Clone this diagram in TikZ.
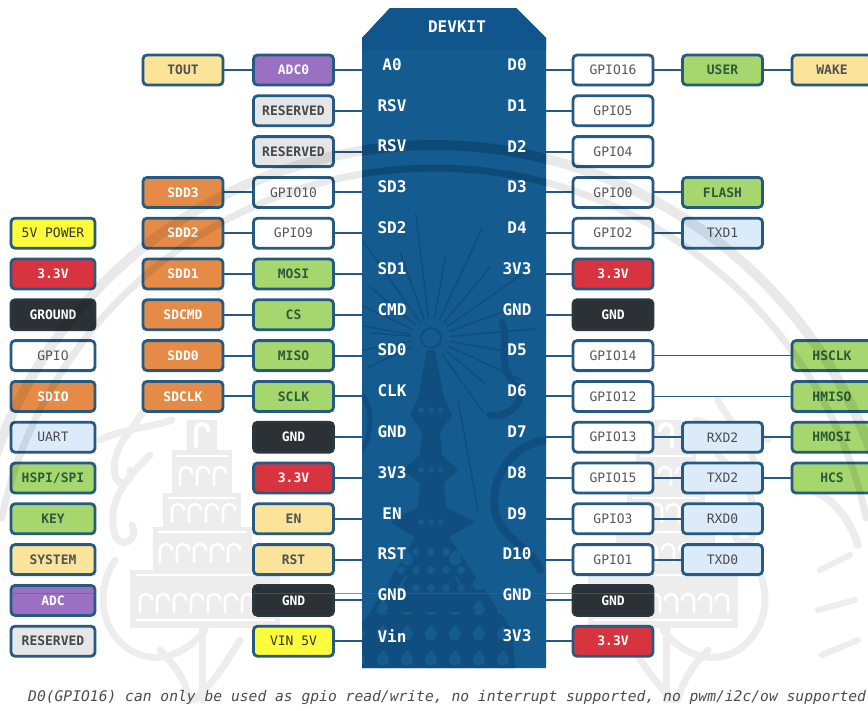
\documentclass[tikz,border=0pt]{standalone}
\usepackage{fontspec}
\setmonofont{DejaVu Sans Mono}
\definecolor{edgeblue}{HTML}{265A80}
\definecolor{chipblue}{HTML}{145C90}
\definecolor{chiptop}{HTML}{10568C}
\definecolor{chipdark}{HTML}{0F4E7E}
\definecolor{wm}{HTML}{EDEDED}
\definecolor{scanline}{HTML}{8A3F6F}
\tikzset{
  box/.style={draw=edgeblue,line width=2.8pt,rounded corners=4pt,minimum width=80pt,minimum height=30pt,inner sep=0pt,
    font=\fontsize{13}{13}\selectfont\ttfamily},
  boldlabel/.style={font=\fontsize{13}{13}\selectfont\ttfamily\bfseries},
  lightlabel/.style={boldlabel,text=white},
  gpiobox/.style={box,fill=white,text=black!65},
  sysbox/.style={box,boldlabel,fill=sysfill,text=black!68},
  resbox/.style={box,boldlabel,fill=resfill,text=black!72},
  adcbox/.style={box,lightlabel,fill=adcfill},
  sdiobox/.style={box,lightlabel,fill=sdiofill},
  spibox/.style={box,boldlabel,fill=spifill,text=spitext},
  redbox/.style={box,lightlabel,fill=redfill},
  gndbox/.style={box,lightlabel,fill=gndfill,draw=gndfill!85!edgeblue},
  pwrbox/.style={box,fill=pwrfill,text=black!80},
  uartbox/.style={box,fill=uartfill,text=black!70},
  pinlabel/.style={font=\fontsize{16}{16}\selectfont\ttfamily\bfseries,text=white,inner sep=0pt},
  wire/.style={draw=edgeblue,line width=1.9pt},
  band/.style={draw=black,opacity=.085,line cap=round},
  swirlstroke/.style={draw=wm,line width=7pt,line cap=round},
  chipstroke/.style={draw=chipdark,line cap=round},
}
\definecolor{sysfill}{HTML}{FBE39A}
\definecolor{resfill}{HTML}{E5E6E8}
\definecolor{adcfill}{HTML}{9A70C2}
\definecolor{sdiofill}{HTML}{E58B47}
\definecolor{spifill}{HTML}{A5D76E}
\definecolor{spitext}{HTML}{2F5A3A}
\definecolor{redfill}{HTML}{D8343F}
\definecolor{gndfill}{HTML}{2B3134}
\definecolor{pwrfill}{HTML}{FCFC3C}
\definecolor{uartfill}{HTML}{DCEBFA}
\newcommand{\scallops}[3]{% x start, count, y base
  \foreach \k in {1,...,#2}
    \draw[white,line width=2.6pt,line cap=round] ({#1+(\k-1)*17},#3) -- ({#1+(\k-1)*17},{#3-12}) .. controls ({#1+(\k-1)*17},{#3-20}) and ({#1+(\k-1)*17+12},{#3-20}) .. ({#1+(\k-1)*17+12},{#3-12});
}
\newcommand{\sidetower}{%
  \fill[wm] (187,420) rectangle (217,450);
  \fill[wm] (172,450) rectangle (232,493);
  \fill[wm] (163,493) rectangle (241,527);
  \fill[wm] (153,527) rectangle (252,570);
  \fill[wm] (130,570) rectangle (280,628);
  \draw[white,line width=2.4pt] (176,456) -- (228,456) (168,498) -- (236,498) (158,532) -- (247,532) (136,575) -- (275,575) (136,620) -- (275,620);
  \draw[white,line width=4pt,line cap=round] (196,446) -- (196,430) .. controls (196,422) and (208,422) .. (208,430);
  \scallops{180}{3}{485}
  \scallops{172}{4}{522}
  \scallops{160}{5}{562}
  \scallops{140}{7}{612}
  \draw[swirlstroke] (100,440) .. controls (125,428) and (150,428) .. (172,420);
  \draw[swirlstroke] (150,400) .. controls (135,430) and (110,445) .. (115,475) .. controls (118,490) and (135,480) .. (130,470);
  \draw[swirlstroke] (150,455) .. controls (130,475) and (105,500) .. (115,535) .. controls (120,550) and (140,540) .. (132,525);
  \draw[swirlstroke] (115,560) .. controls (95,590) and (100,630) .. (130,650) .. controls (160,668) and (190,650) .. (205,630);
  \draw[swirlstroke] (202,628) -- (202,700);
  \draw[swirlstroke] (240,640) .. controls (225,665) and (215,680) .. (195,700);
  \draw[swirlstroke] (160,650) .. controls (175,665) and (185,680) .. (190,700);
}
\begin{document}
\begin{tikzpicture}[x=1pt,y=-1pt]
\useasboundingbox (0,0) rectangle (868,710);
\begin{scope}
\clip (0,0) rectangle (868,710);
% --- watermark parts on the white ground
\sidetower
\begin{scope}[xshift=868pt,xscale=-1]
  \sidetower
\end{scope}
\draw[swirlstroke,line width=8pt] (812,490) .. controls (835,500) and (850,520) .. (858,545);
\draw[swirlstroke,line width=6pt] (820,570) -- (850,555) (818,610) -- (855,600) (822,655) -- (858,640);
% --- chip
\path[fill=chipblue] (362,38) -- (390,8) -- (516,8) -- (546,38) -- (546,668) -- (362,668) -- cycle;
\path[fill=chiptop] (362,38) -- (390,8) -- (516,8) -- (546,38) -- (546,50) -- (362,50) -- cycle;
\begin{scope}
\clip (362,8) rectangle (546,668);
\foreach \a/\r in {-170/70,-155/100,-140/80,-125/118,-110/90,-97/125,-80/85,-65/122,-50/92,-35/115,-20/80,-5/105,10/80,25/100,40/70,55/92,155/70,170/85,185/60}
  \draw[chipstroke,line width=1.5pt] ({431+20*cos(\a)},{338+20*sin(\a)}) -- ({431+\r*cos(\a)},{338+\r*sin(\a)});
\draw[chipstroke,line width=1.5pt] (458,400) -- (478,510);
\draw[chipstroke,line width=2pt] (431,338) circle (10);
\fill[chipdark] (427,350) -- (435,350) -- (444,398) -- (452,415) -- (440,432) -- (442,455) -- (458,470) -- (444,483) -- (446,507) -- (475,522) -- (449,537) -- (500,613) -- (512,630) -- (515,668) -- (350,668) -- (356,630) -- (370,613) -- (415,537) -- (390,522) -- (418,507) -- (420,483) -- (403,470) -- (420,455) -- (422,432) -- (410,415) -- (418,398) -- cycle;
\foreach \yy in {550,575,600,625,650}
  \foreach \xx in {-72,-48,-24,0,24,48,72}
    \fill[chipblue] ({431+\xx},\yy) .. controls ({431+\xx-9},{\yy+8}) and ({431+\xx-7},{\yy+15}) .. ({431+\xx},{\yy+15}) .. controls ({431+\xx+7},{\yy+15}) and ({431+\xx+9},{\yy+8}) .. ({431+\xx},\yy);
\fill[chipdark] (431,538) -- (476,612) -- (386,612) -- cycle;
\foreach \yy in {552,570,588}
  \foreach \xx in {-30,-15,0,15,30}
    \fill[chipblue] ({431+\xx},\yy) circle (4);
\foreach \yy in {410,470,522}
  \foreach \xx in {-10,0,10}
    \fill[chipblue] ({431+\xx},\yy) circle (3);
\draw[chipstroke,line width=7pt] (502,322) .. controls (510,345) and (495,360) .. (515,385) .. controls (530,395) and (510,420) .. (490,415);
\draw[chipstroke,line width=8pt] (546,440) .. controls (510,445) and (490,480) .. (495,510) .. controls (500,540) and (530,545) .. (540,570);
\draw[chipstroke,line width=5pt] (362,395) .. controls (375,410) and (370,440) .. (362,450);
\foreach \r/\w in {465/10,442/7}
  \draw[chipstroke,line width=\w pt,opacity=.75,line cap=butt] plot[domain=112:68,samples=24] ({434+\r*cos(\x)},{610-\r*sin(\x)});
\end{scope}
% --- named ends on the chip edge
\foreach \r in {1,...,15}{
  \pgfmathsetmacro{\yy}{70+(\r-1)*40.8}
  \coordinate (CL\r) at (362,\yy);
  \coordinate (CR\r) at (546,\yy);
}
% --- left column next to the chip
\foreach \r/\s/\t in {1/adcbox/ADC0,2/resbox/RESERVED,3/resbox/RESERVED,4/gpiobox/GPIO10,5/gpiobox/GPIO9,6/spibox/MOSI,7/spibox/CS,8/spibox/MISO,9/spibox/SCLK,10/gndbox/GND,11/redbox/3.3V,12/sysbox/EN,13/sysbox/RST,14/gndbox/GND,15/pwrbox/VIN 5V}{
  \pgfmathsetmacro{\yy}{70+(\r-1)*40.8}
  \node[\s] (L\r) at (293.5,\yy) {\t};
  \draw[wire] (L\r) -- (CL\r);
}
% --- outer left column
\foreach \r/\s/\t in {1/sysbox/TOUT,4/sdiobox/SDD3,5/sdiobox/SDD2,6/sdiobox/SDD1,7/sdiobox/SDCMD,8/sdiobox/SDD0,9/sdiobox/SDCLK}{
  \pgfmathsetmacro{\yy}{70+(\r-1)*40.8}
  \node[\s] (LL\r) at (183,\yy) {\t};
  \draw[wire] (LL\r) -- (L\r);
}
% --- right column next to the chip
\foreach \r/\s/\t in {1/gpiobox/GPIO16,2/gpiobox/GPIO5,3/gpiobox/GPIO4,4/gpiobox/GPIO0,5/gpiobox/GPIO2,6/redbox/3.3V,7/gndbox/GND,8/gpiobox/GPIO14,9/gpiobox/GPIO12,10/gpiobox/GPIO13,11/gpiobox/GPIO15,12/gpiobox/GPIO3,13/gpiobox/GPIO1,14/gndbox/GND,15/redbox/3.3V}{
  \pgfmathsetmacro{\yy}{70+(\r-1)*40.8}
  \node[\s] (R\r) at (613,\yy) {\t};
  \draw[wire] (CR\r) -- (R\r);
}
% --- second right column
\foreach \r/\s/\t in {1/spibox/USER,4/spibox/FLASH,5/uartbox/TXD1,10/uartbox/RXD2,11/uartbox/TXD2,12/uartbox/RXD0,13/uartbox/TXD0}{
  \pgfmathsetmacro{\yy}{70+(\r-1)*40.8}
  \node[\s] (RR\r) at (722.5,\yy) {\t};
  \draw[wire] (R\r) -- (RR\r);
}
% --- third right column
\pgfmathsetmacro{\yy}{70}
\node[sysbox] (W1) at (832,\yy) {WAKE};
\draw[wire] (RR1) -- (W1);
\foreach \r/\t in {8/HSCLK,9/HMISO}{
  \pgfmathsetmacro{\yy}{70+(\r-1)*40.8}
  \node[spibox] (W\r) at (832,\yy) {\t};
  \draw[wire,line width=1.2pt] (R\r) -- (W\r);
}
\foreach \r/\t in {10/HMOSI,11/HCS}{
  \pgfmathsetmacro{\yy}{70+(\r-1)*40.8}
  \node[spibox] (W\r) at (832,\yy) {\t};
  \draw[wire] (RR\r) -- (W\r);
}
% --- legend
\foreach \r/\s/\t in {5/pwrbox/5V POWER,6/redbox/3.3V,7/gndbox/GROUND,8/gpiobox/GPIO,9/sdiobox/SDIO,10/uartbox/UART,11/spibox/{HSPI/SPI},12/spibox/KEY,13/sysbox/SYSTEM,14/adcbox/ADC,15/resbox/RESERVED}{
  \pgfmathsetmacro{\yy}{70+(\r-1)*40.8}
  \node[\s,minimum width=84pt] (K\r) at (53,\yy) {\t};
}
% --- large faint bands lying over the boxes
\foreach \r/\w in {465/10,442/7}
  \draw[band,line width=\w pt] plot[domain=168:12,samples=70] ({434+\r*cos(\x)},{610-\r*sin(\x)});
% --- scan line
\draw[scanline,line width=.9pt,opacity=.7] (253,593.5) -- (654,593.5);
\draw[scanline,line width=.7pt,opacity=.5] (10,593.5) -- (96,593.5);
% --- chip text
\node[pinlabel] (title) at (457,27) {DEVKIT};
\foreach \r/\p in {1/A0,2/RSV,3/RSV,4/SD3,5/SD2,6/SD1,7/CMD,8/SD0,9/CLK,10/GND,11/3V3,12/EN,13/RST,14/GND,15/Vin}{
  \pgfmathsetmacro{\yy}{64.5+(\r-1)*40.8}
  \node[pinlabel] (PL\r) at (392,\yy) {\p};
}
\foreach \r/\p in {1/D0,2/D1,3/D2,4/D3,5/D4,6/3V3,7/GND,8/D5,9/D6,10/D7,11/D8,12/D9,13/D10,14/GND,15/3V3}{
  \pgfmathsetmacro{\yy}{64.5+(\r-1)*40.8}
  \node[pinlabel] (PR\r) at (517,\yy) {\p};
}
% --- footnote
\node[anchor=west,inner sep=0pt,text=black!70,font=\fontsize{14.65}{15}\selectfont\ttfamily\itshape] (note) at (28,697) {D0(GPIO16) can only be used as gpio read/write, no interrupt supported, no pwm/i2c/ow supported};
\end{scope}
\end{tikzpicture}
\end{document}
